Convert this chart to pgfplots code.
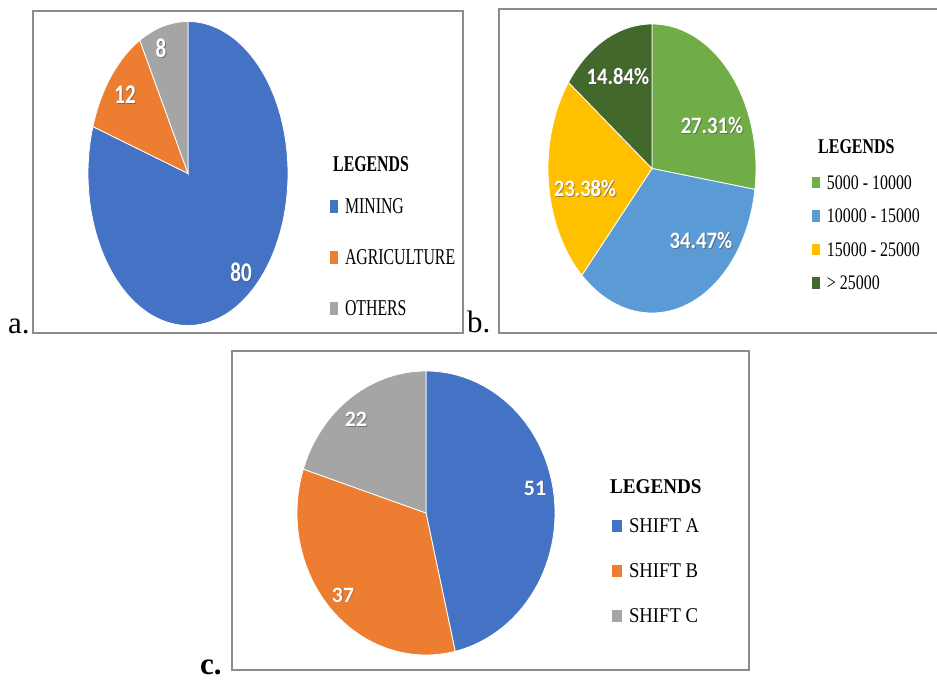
\documentclass[border=0pt]{standalone}
\usepackage{pgfplots}
\pgfplotsset{compat=1.18}
\usepackage{graphicx}
\usepackage{fontspec}
\setmainfont{Liberation Serif}
\newfontfamily\lblfont{Carlito}

\definecolor{mblue}{HTML}{4472C4}
\definecolor{morange}{HTML}{ED7D31}
\definecolor{mgray}{HTML}{A5A5A5}
\definecolor{mgreen}{HTML}{70AD47}
\definecolor{mlblue}{HTML}{5B9BD5}
\definecolor{myellow}{HTML}{FFC000}
\definecolor{mdgreen}{HTML}{43682B}
\definecolor{framec}{HTML}{8C8C8C}

% one slice of a pie: colour, value, total (clockwise from 12 o'clock)
\gdef\cumval{0}
\newcommand\pieslice[3]{%
  \pgfmathsetmacro\pa{90-(360/#3)*\cumval}%
  \pgfmathsetmacro\pb{90-(360/#3)*(\cumval+#2)}%
  \edef\doslice{\noexpand\addplot[fill=#1, draw=white, line width=0.8pt, domain=\pb:\pa, samples=120, variable=\noexpand\t] ({cos(\noexpand\t)},{sin(\noexpand\t)}) -- (axis cs:0,0) -- cycle;}%
  \doslice
  \pgfmathsetmacro\tmpc{\cumval+#2}%
  \xdef\cumval{\tmpc}%
}
% data label with shadow: x, y, size, xscale, text
\newcommand\plab[5]{%
  \node[font=\lblfont\bfseries\fontsize{#3}{#3}\selectfont, text=black!70, opacity=0.55, xshift=0.9pt, yshift=-0.9pt] at (axis cs:#1,#2) {\scalebox{#4}[1]{#5}};
  \node[font=\lblfont\bfseries\fontsize{#3}{#3}\selectfont, text=white] at (axis cs:#1,#2) {\scalebox{#4}[1]{#5}};
}
% legend entry: colour, raise, width, height, xscale, text
\newcommand\lent[6]{\textcolor{#1}{\rule[#2]{#3}{#4}}\hspace{7pt}\scalebox{#5}[1]{#6}}

\pgfplotsset{
  pieaxis/.style={hide axis, scale only axis, anchor=center, clip=false,
    xmin=-1, xmax=1, ymin=-1, ymax=1,
    legend cell align=left,
    legend image code/.code={},
  },
}

\begin{document}
\begin{tikzpicture}
\useasboundingbox (0pt,0pt) rectangle (937pt,681pt);

% ---------------- a ----------------
\begin{axis}[pieaxis, at={(188pt,507.5pt)}, width=200pt, height=304pt,
  legend style={at={(1.21,0.419)}, anchor=north west, draw=none, fill=none, inner sep=0pt, outer sep=0pt, row sep=36pt, column sep=0pt,
    nodes={inner sep=0pt, text height=15pt, text depth=0pt, font=\fontsize{22.6}{24}\selectfont}}]
\gdef\cumval{0}
\pieslice{mblue}{80}{100}
\addlegendentry{\lent{mblue}{0pt}{8pt}{13pt}{0.70}{MINING}}
\pieslice{morange}{12}{100}
\addlegendentry{\lent{morange}{0pt}{8pt}{13pt}{0.70}{AGRICULTURE}}
\pieslice{mgray}{8}{100}
\addlegendentry{\lent{mgray}{0pt}{8pt}{13pt}{0.70}{OTHERS}}
\plab{-0.27}{0.826}{27}{0.78}{8}
\plab{-0.63}{0.516}{27}{0.78}{12}
\plab{0.53}{-0.648}{27}{0.78}{80}
\end{axis}

% ---------------- b ----------------
\begin{axis}[pieaxis, at={(652pt,512.5pt)}, width=208pt, height=289pt,
  legend style={at={(1.269,0.4775)}, anchor=north west, draw=none, fill=none, inner sep=0pt, outer sep=0pt, row sep=19.6pt, column sep=0pt,
    nodes={inner sep=0pt, text height=14pt, text depth=0pt, font=\fontsize{20.7}{22}\selectfont}}]
\gdef\cumval{0}
\pieslice{mgreen}{27.31}{100}
\addlegendentry{\lent{mgreen}{1pt}{8pt}{11.5pt}{0.77}{5000 - 10000}}
\pieslice{mlblue}{34.47}{100}
\addlegendentry{\lent{mlblue}{1pt}{8pt}{11.5pt}{0.77}{10000 - 15000}}
\pieslice{myellow}{23.38}{100}
\addlegendentry{\lent{myellow}{1pt}{8pt}{11.5pt}{0.77}{15000 - 25000}}
\pieslice{mdgreen}{14.84}{100}
\addlegendentry{\lent{mdgreen}{1pt}{8pt}{11.5pt}{0.77}{> 25000}}
\plab{-0.327}{0.637}{23.5}{0.88}{14.84\%}
\plab{0.577}{0.298}{23.5}{0.88}{27.31\%}
\plab{-0.644}{-0.138}{23.5}{0.88}{23.38\%}
\plab{0.471}{-0.498}{23.5}{0.88}{34.47\%}
\end{axis}

% ---------------- c ----------------
\begin{axis}[pieaxis, at={(426pt,168pt)}, width=258pt, height=284pt,
  legend style={at={(1.221,0.479)}, anchor=north west, draw=none, fill=none, inner sep=0pt, outer sep=0pt, row sep=31pt, column sep=0pt,
    nodes={inner sep=0pt, text height=14pt, text depth=0pt, font=\fontsize{21}{22}\selectfont}}]
\gdef\cumval{0}
\pieslice{mblue}{51}{110}
\addlegendentry{\lent{mblue}{1pt}{10pt}{12pt}{0.89}{SHIFT A}}
\pieslice{morange}{37}{110}
\addlegendentry{\lent{morange}{1pt}{10pt}{12pt}{0.89}{SHIFT B}}
\pieslice{mgray}{22}{110}
\addlegendentry{\lent{mgray}{1pt}{10pt}{12pt}{0.89}{SHIFT C}}
\plab{-0.543}{0.662}{22}{1.0}{22}
\plab{-0.643}{-0.577}{22}{1.0}{37}
\plab{0.845}{0.176}{22}{1.0}{51}
\end{axis}

% frames
\draw[framec, line width=1.8pt] (33pt,670pt) rectangle (463pt,348pt);
\draw[framec, line width=1.8pt] (499pt,672pt) rectangle (960pt,348pt);
\draw[framec, line width=1.8pt] (232pt,330pt) rectangle (749pt,11pt);

% legend titles
\node[anchor=base west, inner sep=0pt, font=\bfseries\fontsize{22.6}{24}\selectfont] at (333pt,509pt) {\scalebox{0.70}[1]{LEGENDS}};
\node[anchor=base west, inner sep=0pt, font=\bfseries\fontsize{21}{22}\selectfont] at (818pt,527pt) {\scalebox{0.76}[1]{LEGENDS}};
\node[anchor=base west, inner sep=0pt, font=\bfseries\fontsize{21}{22}\selectfont] at (610pt,188pt) {\scalebox{0.91}[1]{LEGENDS}};

% panel letters
\node[anchor=base west, inner sep=0pt, font=\fontsize{31}{33}\selectfont] at (8pt,347pt) {a.};
\node[anchor=base west, inner sep=0pt, font=\fontsize{31}{33}\selectfont] at (467pt,348pt) {b.};
\node[anchor=base west, inner sep=0pt, font=\bfseries\fontsize{31}{33}\selectfont] at (200pt,7pt) {c.};
\end{tikzpicture}
\end{document}
